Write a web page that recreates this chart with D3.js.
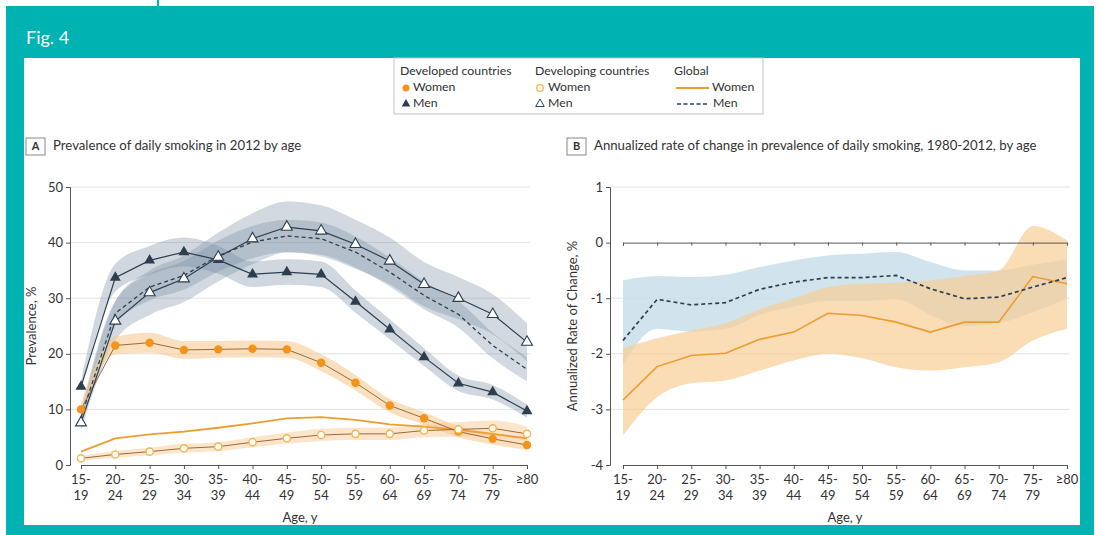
<!DOCTYPE html>
<html>
<head>
<meta charset="utf-8">
<script src="https://cdn.jsdelivr.net/npm/d3@7"></script>
<style>
  html, body { margin: 0; padding: 0; background: #fff; }
  svg { display: block; font-family: Lato, "Open Sans", sans-serif; }
</style>
</head>
<body>
<svg id="fig" width="1100" height="535"></svg>
<script>
// Age groups and their two-line tick labels
const ageGroups = ["15-19","20-24","25-29","30-34","35-39","40-44","45-49","50-54","55-59","60-64","65-69","70-74","75-79","80+"];
const ageTickLines = [["15-","19"],["20-","24"],["25-","29"],["30-","34"],["35-","39"],["40-","44"],["45-","49"],["50-","54"],["55-","59"],["60-","64"],["65-","69"],["70-","74"],["75-","79"],["≥80",""]];

// Panel A: prevalence of daily smoking in 2012, %
const developedWomen  = [10.0, 21.5, 22.0, 20.7, 20.8, 20.9, 20.8, 18.4, 14.8, 10.7, 8.4, 6.0, 4.7, 3.6];
const developingWomen = [1.2, 1.9, 2.4, 3.0, 3.3, 4.1, 4.8, 5.4, 5.6, 5.6, 6.2, 6.4, 6.6, 5.6];
const globalWomen     = [2.4, 4.8, 5.5, 6.0, 6.7, 7.5, 8.4, 8.6, 8.1, 7.3, 6.9, 6.3, 5.6, 4.8];
const developedMen    = [14.1, 33.7, 36.8, 38.3, 36.9, 34.3, 34.7, 34.3, 29.4, 24.4, 19.4, 14.7, 13.1, 9.7];
const developingMen   = [7.6, 25.9, 31.0, 33.5, 37.4, 40.7, 42.8, 42.1, 39.7, 36.7, 32.5, 30.0, 27.1, 22.1];
const globalMen       = [8.6, 27.3, 32.0, 34.1, 37.6, 40.1, 41.2, 40.7, 38.3, 34.7, 30.5, 27.1, 21.5, 17.2];

// Panel A uncertainty half-widths, percentage points
const developedWomenCI  = [1.0, 1.6, 1.8, 1.6, 1.5, 1.5, 1.5, 1.5, 1.4, 1.2, 1.1, 1.0, 1.0, 0.9];
const developingWomenCI = [0.4, 0.6, 0.7, 0.8, 0.8, 0.9, 1.0, 1.1, 1.1, 1.1, 1.2, 1.3, 1.4, 1.3];
const developedMenCI    = [1.0, 2.5, 2.6, 2.6, 2.5, 2.3, 2.3, 2.3, 2.0, 1.8, 1.6, 1.4, 1.3, 1.2];
const developingMenCI   = [1.5, 3.5, 4.0, 4.2, 4.4, 4.6, 4.6, 4.6, 4.4, 4.2, 4.0, 3.8, 3.6, 3.4];
const globalMenCI       = [1.2, 2.2, 2.4, 2.6, 2.8, 2.9, 2.9, 2.9, 2.8, 2.6, 2.5, 2.4, 2.3, 2.2];

// Panel B: annualized rate of change 1980-2012, %
const rateGlobalMen     = [-1.76, -1.02, -1.12, -1.08, -0.84, -0.71, -0.63, -0.63, -0.59, -0.83, -1.01, -0.98, -0.80, -0.63];
const rateGlobalWomen   = [-2.83, -2.23, -2.03, -1.99, -1.74, -1.61, -1.27, -1.31, -1.43, -1.61, -1.43, -1.43, -0.61, -0.74];
const rateMenUpper      = [-0.68, -0.60, -0.62, -0.58, -0.44, -0.32, -0.23, -0.20, -0.17, -0.35, -0.50, -0.50, -0.40, -0.30];
const rateMenLower      = [-2.20, -1.55, -1.60, -1.55, -1.30, -1.15, -1.05, -1.05, -1.02, -1.30, -1.50, -1.45, -1.25, -1.00];
const rateWomenUpper    = [-1.90, -1.72, -1.58, -1.45, -1.20, -1.00, -0.80, -0.74, -0.72, -0.68, -0.60, -0.50, 0.30, 0.04];
const rateWomenLower    = [-3.47, -2.78, -2.53, -2.48, -2.30, -2.12, -2.00, -2.08, -2.24, -2.30, -2.24, -2.15, -1.76, -1.55];

const yTicksA = [0, 10, 20, 30, 40, 50];
const yTicksB = [1, 0, -1, -2, -3, -4];

const colors = {
  teal: "#00B2B2",
  orange: "#F39419",
  womenLine: "#9C6A3C",
  globalWomen: "#EE9C2E",
  openOrange: "#F4B54E",
  men: "#2D3F4E",
  menBand: "#7489A0",
  womenBand: "#F8C68A",
  rateMenBand: "#C9DFEA",
  rateWomenBand: "#F8CD96",
  grid: "#E2E2E2",
  axis: "#555",
  text: "#333"
};

const tickFont = 13;
const svg = d3.select("#fig");

// Frame
svg.append("rect").attr("x", 6).attr("y", 6).attr("width", 1088).attr("height", 529).attr("fill", colors.teal);
svg.append("line").attr("x1", 158).attr("x2", 158).attr("y1", 0).attr("y2", 6).attr("stroke", colors.teal).attr("stroke-width", 2);
svg.append("rect").attr("x", 24).attr("y", 58).attr("width", 1056).attr("height", 467).attr("fill", "#fff");
svg.append("text").attr("x", 26).attr("y", 44).attr("fill", "#fff").attr("font-size", 18).text("Fig. 4");

// Legend
const lg = svg.append("g");
lg.append("rect").attr("x", 394).attr("y", 58).attr("width", 369).attr("height", 56)
  .attr("fill", "#fff").attr("stroke", "#c4c4c4").attr("stroke-width", 1);
const legendFont = 12.3;
const triPath = (s) => d3.symbol(d3.symbolTriangle, s)();
function lgText(x, y, t) {
  lg.append("text").attr("x", x).attr("y", y).attr("font-size", legendFont).attr("fill", colors.text)
    .attr("dominant-baseline", "middle").text(t);
}
lgText(400, 72, "Developed countries");
lgText(535, 72, "Developing countries");
lgText(674, 72, "Global");
lg.append("circle").attr("cx", 406).attr("cy", 88).attr("r", 3.5).attr("fill", colors.orange);
lgText(413, 88, "Women");
lg.append("path").attr("d", triPath(32)).attr("transform", "translate(406,104)").attr("fill", colors.men);
lgText(413, 104, "Men");
lg.append("circle").attr("cx", 540).attr("cy", 88).attr("r", 3.3).attr("fill", "#fff").attr("stroke", colors.openOrange).attr("stroke-width", 1.3);
lgText(548, 88, "Women");
lg.append("path").attr("d", triPath(32)).attr("transform", "translate(540,104)").attr("fill", "#fff").attr("stroke", colors.men).attr("stroke-width", 1);
lgText(548, 104, "Men");
lg.append("line").attr("x1", 676).attr("x2", 709).attr("y1", 88).attr("y2", 88).attr("stroke", colors.globalWomen).attr("stroke-width", 1.8);
lgText(712, 88, "Women");
lg.append("line").attr("x1", 677).attr("x2", 709).attr("y1", 104).attr("y2", 104).attr("stroke", colors.men).attr("stroke-width", 1.3).attr("stroke-dasharray", "4,2.5");
lgText(713, 104, "Men");

// Panel header: boxed letter plus title
function panelHeader(x, letter, title) {
  svg.append("rect").attr("x", x).attr("y", 138).attr("width", 19).attr("height", 17)
    .attr("fill", "#fff").attr("stroke", "#888").attr("stroke-width", 1);
  svg.append("text").attr("x", x + 9.5).attr("y", 147).attr("text-anchor", "middle").attr("dominant-baseline", "middle")
    .attr("font-size", 11).attr("font-weight", "bold").attr("fill", colors.text).text(letter);
  svg.append("text").attr("x", x + 27).attr("y", 147).attr("dominant-baseline", "middle")
    .attr("font-size", 13.2).attr("fill", colors.text).text(title);
}
panelHeader(26, "A", "Prevalence of daily smoking in 2012 by age");
panelHeader(567, "B", "Annualized rate of change in prevalence of daily smoking, 1980-2012, by age");

// Shared x-axis tick labels
function ageAxis(g, x, yPos) {
  const axis = d3.axisBottom(x).tickSize(4).tickFormat("");
  const ag = g.append("g").attr("transform", `translate(0,${yPos})`).call(axis);
  ag.select(".domain").attr("stroke", colors.axis);
  ag.selectAll(".tick line").attr("stroke", colors.axis);
  ageGroups.forEach((a, i) => {
    const t = g.append("text").attr("x", x(a)).attr("text-anchor", "middle").attr("font-size", tickFont).attr("fill", colors.text);
    t.append("tspan").attr("x", x(a)).attr("y", yPos + 19).text(ageTickLines[i][0]);
    t.append("tspan").attr("x", x(a)).attr("y", yPos + 35).text(ageTickLines[i][1]);
  });
}

function styleYAxis(ax) {
  ax.select(".domain").attr("stroke", colors.axis);
  ax.selectAll(".tick line").attr("stroke", colors.axis);
  ax.selectAll(".tick text").attr("font-size", tickFont).attr("fill", colors.text).attr("font-family", "Lato, sans-serif");
}

// ---------- Panel A ----------
const gA = svg.append("g");
const xA = d3.scalePoint().domain(ageGroups).range([81, 527]);
const yA = d3.scaleLinear().domain([0, 50]).range([465, 187]);

yTicksA.filter(v => v > 0).forEach(v => {
  gA.append("line").attr("x1", 70).attr("x2", 530).attr("y1", yA(v)).attr("y2", yA(v)).attr("stroke", colors.grid);
});
const yAxisA = gA.append("g").attr("transform", "translate(70,0)")
  .call(d3.axisLeft(yA).tickValues(yTicksA).tickSize(4).tickPadding(3).tickFormat(d => String(d)));
styleYAxis(yAxisA);
ageAxis(gA, xA, 465);

gA.append("text").attr("transform", "translate(36,326) rotate(-90)").attr("text-anchor", "middle")
  .attr("font-size", tickFont).attr("fill", colors.text).text("Prevalence, %");
gA.append("text").attr("x", 300).attr("y", 522).attr("text-anchor", "middle")
  .attr("font-size", tickFont).attr("fill", colors.text).text("Age, y");

function band(g, x, y, vals, ci, fill, op) {
  const area = d3.area().x((d, i) => x(ageGroups[i])).y0((d, i) => y(vals[i] - ci[i])).y1((d, i) => y(vals[i] + ci[i]))
    .curve(d3.curveMonotoneX);
  g.append("path").datum(vals).attr("d", area).attr("fill", fill).attr("fill-opacity", op);
}
function seriesLine(g, x, y, vals, stroke, width, dash) {
  const line = d3.line().x((d, i) => x(ageGroups[i])).y(d => y(d));
  const p = g.append("path").datum(vals).attr("d", line).attr("fill", "none").attr("stroke", stroke).attr("stroke-width", width);
  if (dash) p.attr("stroke-dasharray", dash);
}

band(gA, xA, yA, developingMen, developingMenCI, colors.menBand, 0.32);
band(gA, xA, yA, globalMen, globalMenCI, colors.menBand, 0.32);
band(gA, xA, yA, developedMen, developedMenCI, colors.menBand, 0.34);
band(gA, xA, yA, developedWomen, developedWomenCI, colors.womenBand, 0.55);
band(gA, xA, yA, developingWomen, developingWomenCI, colors.womenBand, 0.45);

seriesLine(gA, xA, yA, globalWomen, colors.globalWomen, 1.8);
seriesLine(gA, xA, yA, developingWomen, colors.womenLine, 1);
seriesLine(gA, xA, yA, developedWomen, colors.womenLine, 1);
seriesLine(gA, xA, yA, globalMen, colors.men, 1.3, "4,3");
seriesLine(gA, xA, yA, developingMen, colors.men, 1.2);
seriesLine(gA, xA, yA, developedMen, colors.men, 1.2);

gA.selectAll(".dev-w").data(developedWomen).join("circle")
  .attr("cx", (d, i) => xA(ageGroups[i])).attr("cy", d => yA(d)).attr("r", 4.2).attr("fill", colors.orange);
gA.selectAll(".dvg-w").data(developingWomen).join("circle")
  .attr("cx", (d, i) => xA(ageGroups[i])).attr("cy", d => yA(d)).attr("r", 3.6)
  .attr("fill", "#fff").attr("stroke", colors.openOrange).attr("stroke-width", 1.4);
gA.selectAll(".dev-m").data(developedMen).join("path")
  .attr("d", triPath(52)).attr("transform", (d, i) => `translate(${xA(ageGroups[i])},${yA(d)})`).attr("fill", colors.men);
gA.selectAll(".dvg-m").data(developingMen).join("path")
  .attr("d", triPath(52)).attr("transform", (d, i) => `translate(${xA(ageGroups[i])},${yA(d)})`)
  .attr("fill", "#fff").attr("stroke", colors.men).attr("stroke-width", 1.1);

// ---------- Panel B ----------
const gB = svg.append("g");
const xB = d3.scalePoint().domain(ageGroups).range([623, 1067]);
const yB = d3.scaleLinear().domain([-4, 1]).range([465, 187]);

yTicksB.filter(v => v !== 0 && v !== -4).forEach(v => {
  gB.append("line").attr("x1", 610).attr("x2", 1070).attr("y1", yB(v)).attr("y2", yB(v)).attr("stroke", colors.grid);
});

const areaB = (up, lo) => d3.area().x((d, i) => xB(ageGroups[i])).y0((d, i) => yB(lo[i])).y1((d, i) => yB(up[i]))
  .curve(d3.curveMonotoneX);
gB.append("path").datum(rateMenUpper).attr("d", areaB(rateMenUpper, rateMenLower)).attr("fill", colors.rateMenBand).attr("fill-opacity", 0.85);
gB.append("path").datum(rateWomenUpper).attr("d", areaB(rateWomenUpper, rateWomenLower)).attr("fill", colors.rateWomenBand).attr("fill-opacity", 0.7);

const yAxisB = gB.append("g").attr("transform", "translate(610,0)")
  .call(d3.axisLeft(yB).tickValues(yTicksB).tickSize(4).tickPadding(3).tickFormat(d => String(d)));
styleYAxis(yAxisB);

// zero reference line with category ticks
const zeroAxis = gB.append("g").attr("transform", `translate(0,${yB(0)})`)
  .call(d3.axisBottom(xB).tickSize(3).tickFormat(""));
zeroAxis.select(".domain").attr("stroke", colors.axis);
zeroAxis.selectAll(".tick line").attr("stroke", colors.axis);
ageAxis(gB, xB, 465);

seriesLine(gB, xB, yB, rateGlobalWomen, colors.globalWomen, 1.6);
seriesLine(gB, xB, yB, rateGlobalMen, colors.men, 1.7, "4,3");

gB.append("text").attr("transform", "translate(577,326) rotate(-90)").attr("text-anchor", "middle")
  .attr("font-size", tickFont).attr("fill", colors.text).text("Annualized Rate of Change, %");
gB.append("text").attr("x", 845).attr("y", 522).attr("text-anchor", "middle")
  .attr("font-size", tickFont).attr("fill", colors.text).text("Age, y");
</script>
</body>
</html>
